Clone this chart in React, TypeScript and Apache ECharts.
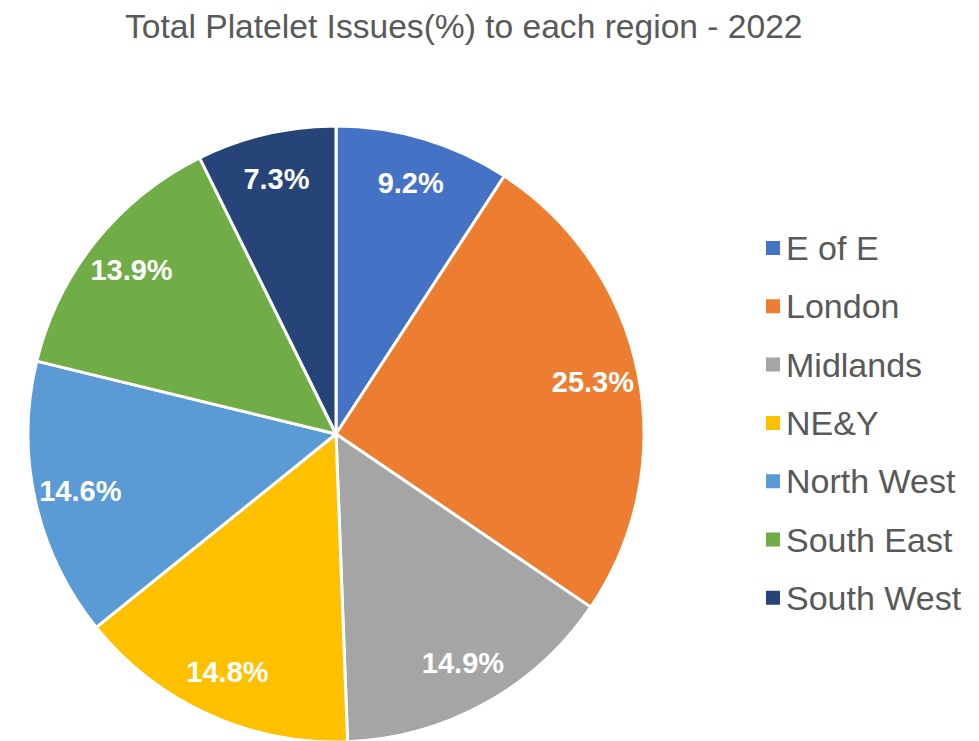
import React, { useEffect, useRef } from "react";
import * as echarts from "echarts";

const regions = ["E of E", "London", "Midlands", "NE&Y", "North West", "South East", "South West"];
const shares = [9.2, 25.3, 14.9, 14.8, 14.6, 13.9, 7.3];
const colors = ["#4472C4", "#ED7D31", "#A5A5A5", "#FFC000", "#5B9BD5", "#70AD47", "#264478"];
const titleText = "Total Platelet Issues(%) to each region - 2022";

const FONT = "'Liberation Sans', Arial, sans-serif";

export default function App() {
  const ref = useRef<HTMLDivElement>(null);
  useEffect(() => {
    if (!ref.current) return;
    const chart = echarts.init(ref.current, undefined, { renderer: "svg" });
    const data = regions.map((name, i) => ({ name, value: shares[i], itemStyle: { color: colors[i] } }));
    chart.setOption({
      animation: false,
      backgroundColor: "#ffffff",
      title: {
        text: titleText,
        left: 120,
        top: 4,
        textStyle: { fontFamily: FONT, fontSize: 33.6, fontWeight: "normal", color: "#595959" },
      },
      legend: {
        orient: "vertical",
        left: 759,
        top: 226,
        data: regions,
        icon: "rect",
        itemWidth: 16,
        itemHeight: 16,
        itemGap: 24.3,
        textStyle: { fontFamily: FONT, fontSize: 34, color: "#595959", lineHeight: 34 },
        selectedMode: false,
      },
      series: [
        {
          type: "pie",
          center: [336, 434],
          radius: [0, 308],
          startAngle: 90,
          clockwise: true,
          silent: true,
          label: { show: false },
          labelLine: { show: false },
          itemStyle: { borderColor: "#ffffff", borderWidth: 3 },
          data,
        },
        {
          type: "pie",
          center: [336, 434],
          radius: [210, 308],
          startAngle: 90,
          clockwise: true,
          silent: true,
          z: 3,
          legendHoverLink: false,
          itemStyle: { color: "rgba(0,0,0,0)", borderWidth: 0 },
          label: {
            show: true,
            position: "inside",
            formatter: (p: any) => p.value.toFixed(1) + "%",
            fontFamily: FONT,
            fontSize: 29,
            fontWeight: "bold",
            color: "#ffffff",
          },
          labelLine: { show: false },
          data: regions.map((name, i) => ({ name, value: shares[i] })),
        },
      ],
    });
    return () => chart.dispose();
  }, []);
  return <div ref={ref} style={{ position: "fixed", left: 0, top: 0, width: 979, height: 741 }} />;
}
